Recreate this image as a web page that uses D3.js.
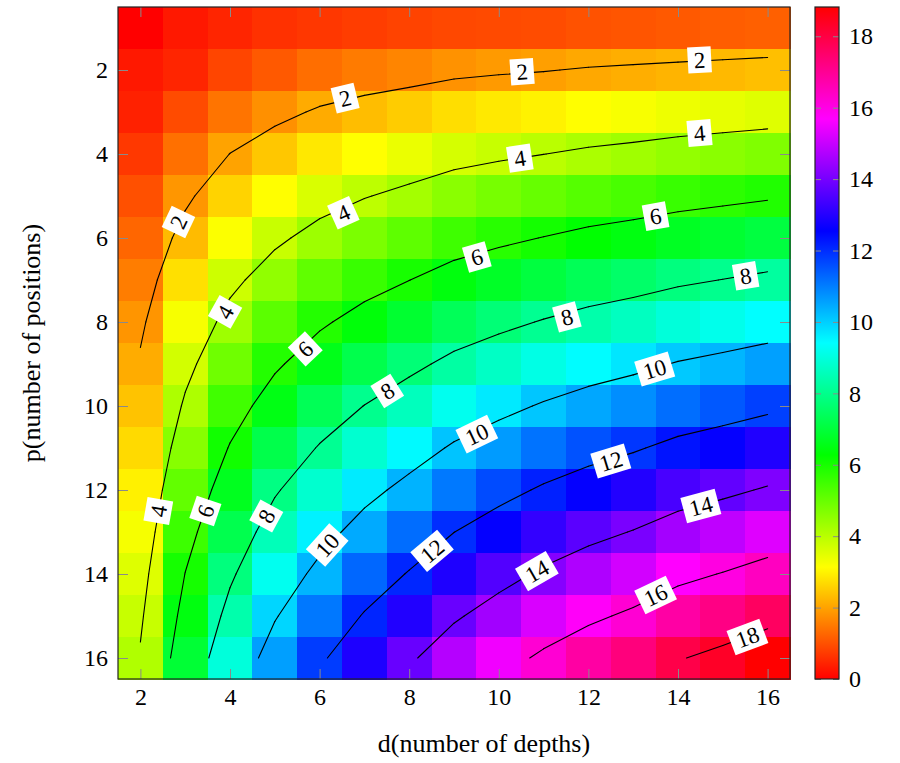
<!DOCTYPE html>
<html>
<head>
<meta charset="utf-8">
<script src="https://cdn.jsdelivr.net/npm/d3@7"></script>
<style>
  html, body { margin: 0; padding: 0; background: #fff; }
  svg { display: block; }
  text { font-family: "Liberation Serif", "DejaVu Serif", serif; fill: #000; }
</style>
</head>
<body>
<svg id="chart" width="900" height="763"></svg>
<script>
// d (number of depths) along x, p (number of positions) along y
const depths = [2, 3, 4, 5, 6, 7, 8, 9, 10, 11, 12, 13, 14, 15, 16];
const positions = [1, 2, 3, 4, 5, 6, 7, 8, 9, 10, 11, 12, 13, 14, 15, 16];

const colD2  = [0.00, 0.30, 0.41, 0.69, 0.98, 1.26, 1.54, 1.83, 2.11, 2.40, 2.68, 2.97, 3.25, 3.54, 3.82, 4.11];
const colD3  = [0.30, 0.45, 0.92, 1.38, 1.84, 2.30, 2.76, 3.23, 3.69, 4.15, 4.61, 5.07, 5.54, 6.02, 6.46, 6.92];
const colD4  = [0.45, 0.85, 1.43, 2.01, 2.59, 3.17, 3.75, 4.33, 4.91, 5.49, 6.07, 6.65, 7.23, 7.81, 8.39, 8.97];
const colD5  = [0.60, 1.10, 1.77, 2.45, 3.13, 3.81, 4.49, 5.16, 5.84, 6.52, 7.20, 7.88, 8.55, 9.23, 9.91, 10.59];
const colD6  = [0.68, 1.35, 2.10, 2.85, 3.60, 4.34, 5.09, 5.84, 6.58, 7.33, 8.08, 8.82, 9.57, 10.32, 11.07, 11.81];
const colD7  = [0.75, 1.51, 2.32, 3.14, 3.95, 4.76, 5.58, 6.39, 7.21, 8.02, 8.83, 9.65, 10.46, 11.28, 12.09, 12.90];
const colD8  = [0.82, 1.64, 2.51, 3.38, 4.25, 5.12, 5.99, 6.86, 7.73, 8.60, 9.47, 10.34, 11.21, 12.08, 12.95, 13.82];
const colD9  = [0.88, 1.80, 2.73, 3.65, 4.58, 5.51, 6.43, 7.36, 8.28, 9.21, 10.14, 11.06, 11.99, 12.91, 13.84, 14.77];
const colD10 = [0.91, 1.89, 2.86, 3.83, 4.81, 5.78, 6.75, 7.72, 8.70, 9.67, 10.64, 11.62, 12.59, 13.56, 14.54, 15.51];
const colD11 = [0.94, 1.96, 2.98, 3.99, 5.02, 6.03, 7.05, 8.07, 9.09, 10.11, 11.13, 12.15, 13.17, 14.19, 15.21, 16.22];
const colD12 = [1.01, 2.07, 3.12, 4.17, 5.23, 6.28, 7.33, 8.38, 9.44, 10.49, 11.54, 12.60, 13.65, 14.70, 15.76, 16.81];
const colD13 = [1.05, 2.14, 3.22, 4.30, 5.39, 6.47, 7.55, 8.63, 9.72, 10.80, 11.88, 12.97, 14.05, 15.13, 16.22, 17.30];
const colD14 = [1.09, 2.21, 3.34, 4.46, 5.58, 6.70, 7.82, 8.95, 10.07, 11.19, 12.31, 13.43, 14.56, 15.68, 16.80, 17.92];
const colD15 = [1.14, 2.28, 3.43, 4.58, 5.73, 6.87, 8.02, 9.17, 10.31, 11.46, 12.61, 13.75, 14.90, 16.05, 17.20, 18.34];
const colD16 = [1.18, 2.35, 3.53, 4.70, 5.88, 7.06, 8.23, 9.41, 10.58, 11.76, 12.94, 14.11, 15.29, 16.46, 17.64, 18.82];
const columns = [colD2, colD3, colD4, colD5, colD6, colD7, colD8, colD9, colD10, colD11, colD12, colD13, colD14, colD15, colD16];

const contourLevels = [2, 4, 6, 8, 10, 12, 14, 16, 18];

// contour label anchors (level, d, p)
const labelLevels = [2, 2, 2, 2, 4, 4, 4, 4, 4, 6, 6, 6, 6, 8, 8, 8, 8, 10, 10, 10, 12, 12, 14, 14, 16, 18];
const labelD = [2.85, 6.57, 10.52, 14.48, 2.40, 3.89, 6.53, 10.47, 14.48, 3.45, 5.68, 9.51, 13.5, 4.81, 7.51, 11.52, 15.51, 6.17, 9.51, 13.48, 8.51, 12.5, 10.85, 14.51, 13.5, 15.55];
const labelP = [5.62, 2.67, 2.04, 1.76, 12.5, 7.76, 5.40, 4.10, 3.50, 12.5, 8.64, 6.45, 5.48, 12.62, 9.64, 7.88, 6.90, 13.31, 10.67, 9.12, 13.45, 11.31, 13.93, 12.38, 14.5, 15.5];

const xTicks = [2, 4, 6, 8, 10, 12, 14, 16];
const yTicks = [2, 4, 6, 8, 10, 12, 14, 16];
const colorTicks = [0, 2, 4, 6, 8, 10, 12, 14, 16, 18];
const hsvStops = ["#ff0000", "#ffff00", "#00ff00", "#00ffff", "#0000ff", "#ff00ff", "#ff0000"];

const plot = { left: 118, right: 790, top: 7, bottom: 679 };
const bar = { left: 815, right: 839 };
const tickLen = 10;
const tickColor = "#8a8a8a";

const svg = d3.select("#chart");

const x = d3.scaleLinear().domain([1.5, 16.5]).range([plot.left, plot.right]);
const y = d3.scaleLinear().domain([0.5, 16.5]).range([plot.top, plot.bottom]);

const allValues = columns.flat();
const vMin = 0;
const vMax = d3.max(allValues);
const color = d3.scaleLinear()
  .domain(hsvStops.map((_, k) => vMin + k * (vMax - vMin) / (hsvStops.length - 1)))
  .range(hsvStops);

// heatmap cells
const cells = [];
depths.forEach((d, i) => {
  positions.forEach((p, j) => cells.push({ d, p, v: columns[i][j] }));
});

svg.append("g")
  .selectAll("rect")
  .data(cells)
  .join("rect")
  .attr("x", c => x(c.d - 0.5))
  .attr("y", c => y(c.p - 0.5))
  .attr("width", c => x(c.d + 0.5) - x(c.d - 0.5) + 0.5)
  .attr("height", c => y(c.p + 0.5) - y(c.p - 0.5) + 0.5)
  .attr("fill", c => color(c.v))
  .attr("shape-rendering", "crispEdges");

// contour lines by marching squares over the sample grid
function isoSegments(level) {
  const segs = [];
  for (let i = 0; i < depths.length - 1; i++) {
    for (let j = 0; j < positions.length - 1; j++) {
      const corners = [
        [depths[i], positions[j], columns[i][j]],
        [depths[i + 1], positions[j], columns[i + 1][j]],
        [depths[i + 1], positions[j + 1], columns[i + 1][j + 1]],
        [depths[i], positions[j + 1], columns[i][j + 1]]
      ];
      const pts = [];
      for (let k = 0; k < 4; k++) {
        const a = corners[k], b = corners[(k + 1) % 4];
        if ((a[2] < level) !== (b[2] < level)) {
          const t = (level - a[2]) / (b[2] - a[2]);
          pts.push([a[0] + t * (b[0] - a[0]), a[1] + t * (b[1] - a[1])]);
        }
      }
      if (pts.length === 2) segs.push(pts);
      if (pts.length === 4) {
        segs.push([pts[0], pts[1]]);
        segs.push([pts[2], pts[3]]);
      }
    }
  }
  return segs;
}

const segmentsByLevel = new Map(contourLevels.map(l => [l, isoSegments(l)]));

const contourG = svg.append("g");
contourLevels.forEach(level => {
  contourG.append("g")
    .selectAll("line")
    .data(segmentsByLevel.get(level))
    .join("line")
    .attr("x1", s => x(s[0][0]))
    .attr("y1", s => y(s[0][1]))
    .attr("x2", s => x(s[1][0]))
    .attr("y2", s => y(s[1][1]))
    .attr("stroke", "#000")
    .attr("stroke-width", 1.1)
    .attr("stroke-linecap", "round");
});

// labels follow the direction of the nearest contour segment
function angleAt(level, px, py) {
  let best = null, bestDist = Infinity;
  segmentsByLevel.get(level).forEach(s => {
    const x1 = x(s[0][0]), y1 = y(s[0][1]), x2 = x(s[1][0]), y2 = y(s[1][1]);
    const dx = x2 - x1, dy = y2 - y1;
    const len2 = dx * dx + dy * dy || 1;
    const t = Math.max(0, Math.min(1, ((px - x1) * dx + (py - y1) * dy) / len2));
    const dist = Math.hypot(px - (x1 + t * dx), py - (y1 + t * dy));
    if (dist < bestDist) { bestDist = dist; best = [dx, dy]; }
  });
  let a = Math.atan2(best[1], best[0]) * 180 / Math.PI;
  if (a > 90) a -= 180;
  if (a < -90) a += 180;
  return a;
}

const labels = labelLevels.map((level, k) => ({ level, d: labelD[k], p: labelP[k] }));
const labelG = svg.append("g")
  .selectAll("g")
  .data(labels)
  .join("g")
  .attr("transform", l => `translate(${x(l.d)},${y(l.p)}) rotate(${angleAt(l.level, x(l.d), y(l.p))})`);

labelG.append("rect").attr("fill", "#fff");
labelG.append("text")
  .attr("text-anchor", "middle")
  .attr("dy", "0.35em")
  .style("font-size", "23px")
  .text(l => l.level);
labelG.each(function () {
  const g = d3.select(this);
  const bb = g.select("text").node().getBBox();
  g.select("rect")
    .attr("x", -bb.width / 2 - 6)
    .attr("y", -13)
    .attr("width", bb.width + 12)
    .attr("height", 26);
});

// axes: inside gray ticks on all sides, labels left and bottom
function styleAxis(g) {
  g.select(".domain").remove();
  g.selectAll(".tick line").attr("stroke", tickColor).attr("stroke-width", 1);
  g.selectAll(".tick text").style("font-size", "24px").attr("fill", "#000");
}

svg.append("g")
  .attr("transform", `translate(0,${plot.bottom})`)
  .call(d3.axisBottom(x).tickValues(xTicks).tickSizeInner(-tickLen).tickSizeOuter(0).tickPadding(9))
  .call(styleAxis);
svg.append("g")
  .attr("transform", `translate(0,${plot.top})`)
  .call(d3.axisTop(x).tickValues(xTicks).tickSizeInner(-tickLen).tickSizeOuter(0).tickFormat(""))
  .call(styleAxis);
svg.append("g")
  .attr("transform", `translate(${plot.left},0)`)
  .call(d3.axisLeft(y).tickValues(yTicks).tickSizeInner(-tickLen).tickSizeOuter(0).tickPadding(10))
  .call(styleAxis);
svg.append("g")
  .attr("transform", `translate(${plot.right},0)`)
  .call(d3.axisRight(y).tickValues(yTicks).tickSizeInner(-tickLen).tickSizeOuter(0).tickFormat(""))
  .call(styleAxis);

svg.append("rect")
  .attr("x", plot.left).attr("y", plot.top)
  .attr("width", plot.right - plot.left).attr("height", plot.bottom - plot.top)
  .attr("fill", "none").attr("stroke", "#222").attr("stroke-width", 1.2);

// axis titles
svg.append("text")
  .attr("x", 484)
  .attr("y", 752)
  .attr("text-anchor", "middle")
  .style("font-size", "26px")
  .text("d(number of depths)");
svg.append("text")
  .attr("transform", `translate(40,${(plot.top + plot.bottom) / 2}) rotate(-90)`)
  .attr("text-anchor", "middle")
  .style("font-size", "26px")
  .text("p(number of positions)");

// colour bar
const cScale = d3.scaleLinear().domain([vMin, vMax]).range([plot.bottom, plot.top]);
const grad = svg.append("defs").append("linearGradient")
  .attr("id", "hsv-bar")
  .attr("x1", 0).attr("y1", 1).attr("x2", 0).attr("y2", 0);
grad.selectAll("stop")
  .data(hsvStops)
  .join("stop")
  .attr("offset", (_, k) => k / (hsvStops.length - 1))
  .attr("stop-color", c => c);

svg.append("rect")
  .attr("x", bar.left).attr("y", plot.top)
  .attr("width", bar.right - bar.left).attr("height", plot.bottom - plot.top)
  .attr("fill", "url(#hsv-bar)");

svg.append("g")
  .attr("transform", `translate(${bar.right},0)`)
  .call(d3.axisRight(cScale).tickValues(colorTicks).tickSizeInner(-6).tickSizeOuter(0).tickPadding(10))
  .call(styleAxis);
svg.append("g")
  .attr("transform", `translate(${bar.left},0)`)
  .call(d3.axisLeft(cScale).tickValues(colorTicks).tickSizeInner(-6).tickSizeOuter(0).tickFormat(""))
  .call(styleAxis);

svg.append("rect")
  .attr("x", bar.left).attr("y", plot.top)
  .attr("width", bar.right - bar.left).attr("height", plot.bottom - plot.top)
  .attr("fill", "none").attr("stroke", "#222").attr("stroke-width", 1.2);
</script>
</body>
</html>
